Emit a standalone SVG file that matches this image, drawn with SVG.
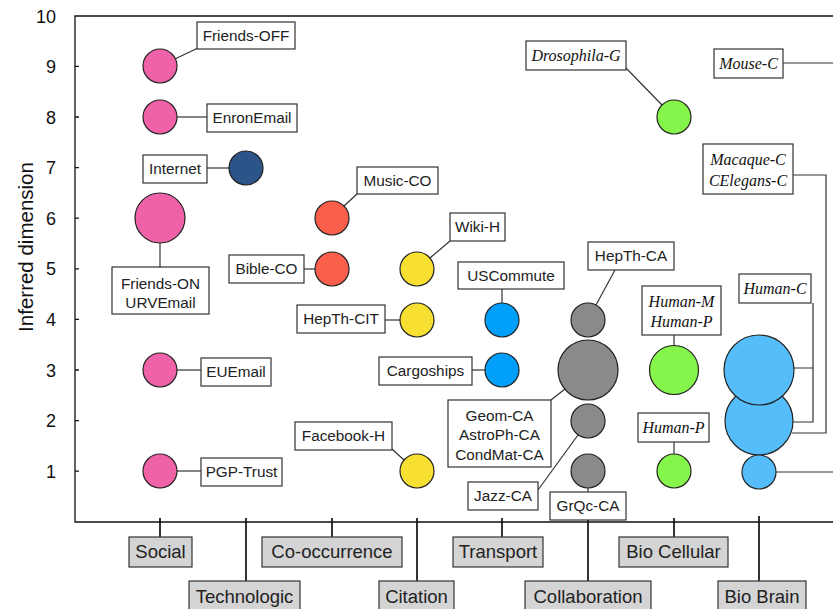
<svg xmlns="http://www.w3.org/2000/svg" width="833" height="609" viewBox="0 0 833 609">
<style>
.bg{fill:#fff}
.ax{stroke:#111;stroke-width:1.3;fill:none}
.tk{font-family:"Liberation Sans",Arial,sans-serif;font-size:18px;fill:#111;text-anchor:end}
.ttl{font-family:"Liberation Sans",Arial,sans-serif;font-size:20.5px;fill:#111;text-anchor:middle}
.box{fill:#fff;stroke:#333;stroke-width:1.2}
.lb{font-family:"Liberation Sans",Arial,sans-serif;font-size:15.3px;fill:#222;text-anchor:middle}
.it{font-family:"Liberation Serif","Times New Roman",serif;font-style:italic;font-size:16px;fill:#111;text-anchor:middle}
.cat{fill:#d4d4d4;stroke:#333;stroke-width:1.2}
.ct{font-family:"Liberation Sans",Arial,sans-serif;font-size:18.5px;fill:#222;text-anchor:middle}
.cn{stroke:#333;stroke-width:1.2;fill:none}
.cl{stroke:#111;stroke-width:1.7;fill:none}
.c{stroke:#222;stroke-width:1.2}
.soc{fill:#f062a8}.tec{fill:#2c5488}.coo{fill:#fa5f4b}.cit{fill:#f8e032}.tra{fill:#00a0fa}.col{fill:#8a8a8a}.cel{fill:#86f54b}.bra{fill:#55befa}
</style>
<rect class="bg" x="0" y="0" width="833" height="609"/>
<g id="axes">
<path class="ax" d="M833 16H75V522H833"/>
<path class="ax" d="M75 66.4h4M75 117h4M75 167.6h4M75 218.2h4M75 268.8h4M75 319.4h4M75 370h4M75 420.6h4M75 471.2h4"/>
<text class="tk" x="56" y="23">10</text>
<text class="tk" x="56" y="73">9</text>
<text class="tk" x="56" y="124">8</text>
<text class="tk" x="56" y="174">7</text>
<text class="tk" x="56" y="225">6</text>
<text class="tk" x="56" y="275">5</text>
<text class="tk" x="56" y="326">4</text>
<text class="tk" x="56" y="377">3</text>
<text class="tk" x="56" y="427">2</text>
<text class="tk" x="56" y="478">1</text>
<text class="ttl" transform="translate(33 247) rotate(-90)">Inferred dimension</text>
</g>
<g id="connectors">
<path class="cn" d="M175.4 58.7L198 48"/>
<path class="cn" d="M177 117H207"/>
<path class="cn" d="M207 168H229"/>
<path class="cn" d="M160 243V267"/>
<path class="cn" d="M177 370H201"/>
<path class="cn" d="M177 471H201"/>
<path class="cn" d="M344 206L357 194"/>
<path class="cn" d="M304 269H315"/>
<path class="cn" d="M430 258L450 241"/>
<path class="cn" d="M502 289V303"/>
<path class="cn" d="M385 320H400"/>
<path class="cn" d="M472 370H485"/>
<path class="cn" d="M392 449L404 460"/>
<path class="cn" d="M551 400L565 389"/>
<path class="cn" d="M538 490L578 435"/>
<path class="cn" d="M588 488V492"/>
<path class="cn" d="M615 270L596 305"/>
<path class="cn" d="M626 68L662 105"/>
<path class="cn" d="M674 335V346"/>
<path class="cn" d="M674 442V455"/>
<path class="cn" d="M783 63H833"/>
<path class="cn" d="M793 175H826V433H792"/>
<path class="cn" d="M813 303V422H793M793 368H813"/>
<path class="cn" d="M776 472H833"/>
<path class="cl" d="M160 518V537M332 518V537M502 518V537M674 518V537"/>
<path class="cl" d="M246 518V581M417 518V581M588 520V581M759 516V581"/>
</g>
<g id="friends-off"><circle class="c soc" cx="160" cy="66" r="17"/><rect class="box" x="197" y="22" width="98" height="27"/><text class="lb" x="246" y="41">Friends-OFF</text></g>
<g id="enronemail"><circle class="c soc" cx="160" cy="117" r="17"/><rect class="box" x="207" y="104" width="90" height="28"/><text class="lb" x="252" y="123">EnronEmail</text></g>
<g id="friends-on"><circle class="c soc" cx="160" cy="218" r="25"/><rect class="box" x="112" y="267" width="97" height="47"/><text class="lb" x="160.5" y="289">Friends-ON</text><text class="lb" x="160.5" y="308">URVEmail</text></g>
<g id="euemail"><circle class="c soc" cx="160" cy="370" r="17"/><rect class="box" x="201" y="358" width="70" height="28"/><text class="lb" x="236" y="377">EUEmail</text></g>
<g id="pgp-trust"><circle class="c soc" cx="160" cy="471" r="17"/><rect class="box" x="201" y="458" width="81" height="28"/><text class="lb" x="241.5" y="477">PGP-Trust</text></g>
<g id="internet"><circle class="c tec" cx="246" cy="168" r="17"/><rect class="box" x="143" y="155" width="64" height="28"/><text class="lb" x="175" y="174">Internet</text></g>
<g id="music-co"><circle class="c coo" cx="332" cy="218" r="17"/><rect class="box" x="357" y="167" width="81" height="27"/><text class="lb" x="397.5" y="186">Music-CO</text></g>
<g id="bible-co"><circle class="c coo" cx="332" cy="269" r="17"/><rect class="box" x="229" y="255" width="75" height="28"/><text class="lb" x="266.5" y="274">Bible-CO</text></g>
<g id="wiki-h"><circle class="c cit" cx="417" cy="269" r="17"/><rect class="box" x="450" y="213" width="55" height="28"/><text class="lb" x="477.5" y="232">Wiki-H</text></g>
<g id="hepth-cit"><circle class="c cit" cx="417" cy="320" r="17"/><rect class="box" x="297" y="305" width="88" height="28"/><text class="lb" x="341" y="324">HepTh-CIT</text></g>
<g id="facebook-h"><circle class="c cit" cx="417" cy="471" r="17"/><rect class="box" x="295" y="422" width="97" height="28"/><text class="lb" x="343.5" y="441">Facebook-H</text></g>
<g id="uscommute"><circle class="c tra" cx="502" cy="320" r="17"/><rect class="box" x="458" y="262" width="106" height="27"/><text class="lb" x="511" y="281">USCommute</text></g>
<g id="cargoships"><circle class="c tra" cx="502" cy="370" r="17"/><rect class="box" x="379" y="357" width="93" height="28"/><text class="lb" x="425.5" y="376">Cargoships</text></g>
<g id="hepth-ca"><circle class="c col" cx="588" cy="320" r="17"/><rect class="box" x="588" y="242" width="86" height="28"/><text class="lb" x="631" y="261">HepTh-CA</text></g>
<g id="geom-ca"><circle class="c col" cx="588" cy="370" r="30"/><rect class="box" x="448" y="400" width="103" height="67"/><text class="lb" x="499.5" y="421">Geom-CA</text><text class="lb" x="499.5" y="440">AstroPh-CA</text><text class="lb" x="499.5" y="460">CondMat-CA</text></g>
<g id="jazz-ca"><circle class="c col" cx="588" cy="421" r="17"/><rect class="box" x="468" y="482" width="70" height="28"/><text class="lb" x="503" y="501">Jazz-CA</text></g>
<g id="grqc-ca"><circle class="c col" cx="588" cy="471" r="17"/><rect class="box" x="550" y="492" width="76" height="28"/><text class="lb" x="588" y="511">GrQc-CA</text></g>
<g id="drosophila-g"><circle class="c cel" cx="674" cy="117" r="17"/><rect class="box" x="526" y="41" width="100" height="29"/><text class="it" x="576" y="61">Drosophila-G</text></g>
<g id="human-m"><circle class="c cel" cx="674" cy="370" r="24.5"/><rect class="box" x="642" y="286" width="79" height="49"/><text class="it" x="681.5" y="307">Human-M</text><text class="it" x="681.5" y="327">Human-P</text></g>
<g id="human-p"><circle class="c cel" cx="674" cy="471" r="17"/><rect class="box" x="638" y="413" width="71" height="29"/><text class="it" x="673.5" y="433">Human-P</text></g>
<g id="mouse-c"><rect class="box" x="714" y="49" width="69" height="29"/><text class="it" x="748.5" y="69">Mouse-C</text></g>
<g id="macaque-c"><rect class="box" x="703" y="144" width="90" height="50"/><text class="it" x="748" y="165">Macaque-C</text><text class="it" x="748" y="186">CElegans-C</text></g>
<g id="brain-2"><circle class="c bra" cx="759" cy="421" r="34"/></g>
<g id="human-c"><circle class="c bra" cx="759" cy="370" r="35"/><rect class="box" x="739" y="274" width="72" height="29"/><text class="it" x="775" y="294">Human-C</text></g>
<g id="brain-1"><circle class="c bra" cx="759" cy="472" r="17"/></g>
<g id="cat-social"><rect class="cat" x="129" y="537" width="63" height="30"/><text class="ct" x="160.5" y="558">Social</text></g>
<g id="cat-cooccurrence"><rect class="cat" x="262" y="537" width="140" height="30"/><text class="ct" x="332" y="558">Co-occurrence</text></g>
<g id="cat-transport"><rect class="cat" x="453" y="537" width="90" height="30"/><text class="ct" x="498" y="558">Transport</text></g>
<g id="cat-biocellular"><rect class="cat" x="619" y="537" width="109" height="30"/><text class="ct" x="673.5" y="558">Bio Cellular</text></g>
<g id="cat-technologic"><rect class="cat" x="189" y="581" width="111" height="32"/><text class="ct" x="244.5" y="603">Technologic</text></g>
<g id="cat-citation"><rect class="cat" x="379" y="581" width="75" height="32"/><text class="ct" x="416.5" y="603">Citation</text></g>
<g id="cat-collaboration"><rect class="cat" x="525" y="581" width="126" height="32"/><text class="ct" x="588" y="603">Collaboration</text></g>
<g id="cat-biobrain"><rect class="cat" x="718" y="581" width="88" height="32"/><text class="ct" x="762" y="603">Bio Brain</text></g>
</svg>
